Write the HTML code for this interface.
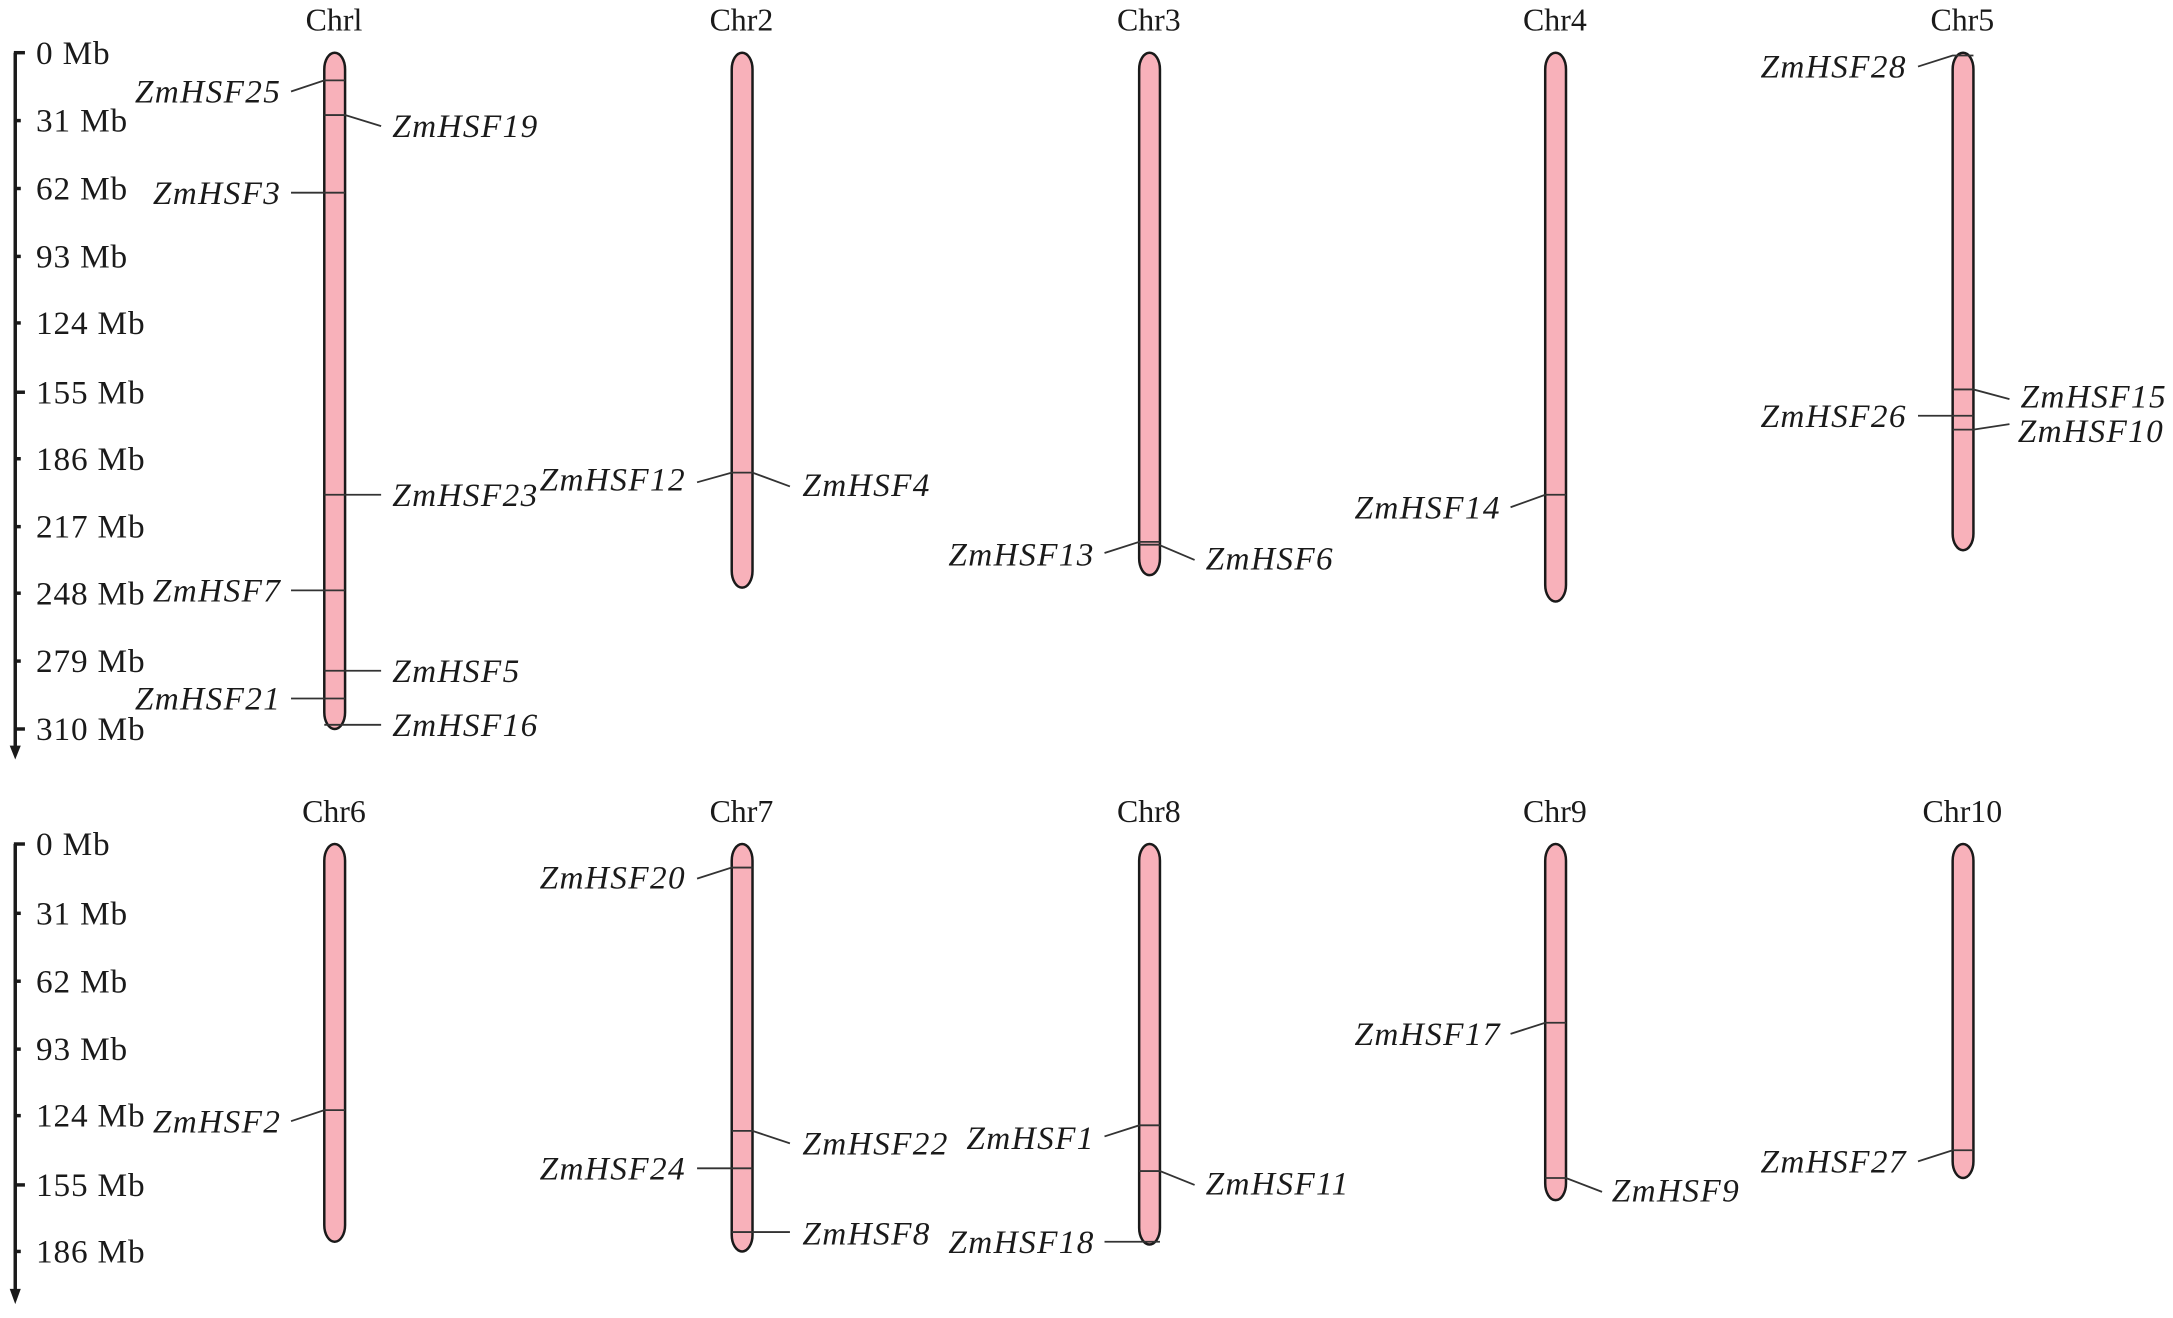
<!DOCTYPE html>
<html><head><meta charset="utf-8"><style>html,body{margin:0;padding:0;background:#fff}svg{display:block}</style></head>
<body>
<svg xmlns="http://www.w3.org/2000/svg" width="2173" height="1318" viewBox="0 0 1568 951" font-family="'Liberation Serif',serif">
<g stroke="#1a1a1a" fill="none">
<line x1="11" y1="38" x2="11" y2="540" stroke-width="2.5"/>
<g stroke-width="2.5">
<line x1="10" y1="38" x2="18" y2="38"/><line x1="10" y1="87" x2="15" y2="87"/><line x1="10" y1="136" x2="15" y2="136"/><line x1="10" y1="185" x2="15" y2="185"/><line x1="10" y1="233" x2="15" y2="233"/><line x1="10" y1="283" x2="18" y2="283"/><line x1="10" y1="331" x2="15" y2="331"/><line x1="10" y1="380" x2="15" y2="380"/><line x1="10" y1="428" x2="15" y2="428"/><line x1="10" y1="477" x2="15" y2="477"/><line x1="10" y1="526" x2="18" y2="526"/>
<line x1="11" y1="609" x2="11" y2="933"/>
<line x1="10" y1="609" x2="18" y2="609"/><line x1="10" y1="659" x2="15" y2="659"/><line x1="10" y1="708" x2="15" y2="708"/><line x1="10" y1="757" x2="15" y2="757"/><line x1="10" y1="805" x2="15" y2="805"/><line x1="10" y1="855" x2="18" y2="855"/><line x1="10" y1="903" x2="15" y2="903"/>
</g>
</g>
<polygon points="7,538 15,538 11,548" fill="#1a1a1a"/>
<polygon points="7,930 15,930 11,941" fill="#1a1a1a"/>
<g font-size="24" fill="#1a1a1a" letter-spacing="0.6">
<text x="26" y="46">0 Mb</text><text x="26" y="95">31 Mb</text><text x="26" y="144">62 Mb</text><text x="26" y="193">93 Mb</text><text x="26" y="241">124 Mb</text><text x="26" y="291">155 Mb</text><text x="26" y="339">186 Mb</text><text x="26" y="388">217 Mb</text><text x="26" y="436">248 Mb</text><text x="26" y="485">279 Mb</text><text x="26" y="534">310 Mb</text>
<text x="26" y="617">0 Mb</text><text x="26" y="667">31 Mb</text><text x="26" y="716">62 Mb</text><text x="26" y="765">93 Mb</text><text x="26" y="813">124 Mb</text><text x="26" y="863">155 Mb</text><text x="26" y="911">186 Mb</text>
</g>
<g font-size="23" fill="#1a1a1a" text-anchor="middle">
<text x="241" y="22">Chrl</text><text x="535" y="22">Chr2</text><text x="829" y="22">Chr3</text><text x="1122" y="22">Chr4</text><text x="1416" y="22">Chr5</text>
<text x="241" y="593">Chr6</text><text x="535" y="593">Chr7</text><text x="829" y="593">Chr8</text><text x="1122" y="593">Chr9</text><text x="1416" y="593">Chr10</text>
</g>
<g fill="#f8b1ba" stroke="#1a1a1a" stroke-width="1.8">
<rect x="234" y="38" width="15" height="488" rx="7.5" ry="12"/>
<rect x="528" y="38" width="15" height="386" rx="7.5" ry="12"/>
<rect x="822" y="38" width="15" height="377" rx="7.5" ry="12"/>
<rect x="1115" y="38" width="15" height="396" rx="7.5" ry="12"/>
<rect x="1409" y="38" width="15" height="359" rx="7.5" ry="12"/>
<rect x="234" y="609" width="15" height="287" rx="7.5" ry="12"/>
<rect x="528" y="609" width="15" height="294" rx="7.5" ry="12"/>
<rect x="822" y="609" width="15" height="289" rx="7.5" ry="12"/>
<rect x="1115" y="609" width="15" height="257" rx="7.5" ry="12"/>
<rect x="1409" y="609" width="15" height="241" rx="7.5" ry="12"/>
</g>
<g stroke="#333" stroke-width="1.3" fill="none">
<path d="M249,58H234L210,66"/><path d="M234,83H249L275,91"/><path d="M249,139H210"/><path d="M234,357H275"/><path d="M249,426H210"/><path d="M234,484H275"/><path d="M249,504H210"/><path d="M234,523H275"/>
<path d="M503,348L528,341H543L570,351"/>
<path d="M797,399L822,391H837"/><path d="M822,393H836L862,404"/>
<path d="M1090,366L1115,357H1130"/>
<path d="M1384,48L1409,40H1424"/><path d="M1409,281H1424L1450,288"/><path d="M1384,300H1424"/><path d="M1409,310H1424L1450,306"/>
<path d="M210,809L234,801H249"/>
<path d="M503,634L528,626H543"/><path d="M528,816H543L570,825"/><path d="M503,843H543"/><path d="M528,889H570"/>
<path d="M797,820L822,812H837"/><path d="M822,845H837L862,855"/><path d="M797,896H837"/>
<path d="M1090,746L1115,738H1130"/><path d="M1115,850H1130L1156,860"/>
<path d="M1384,838L1409,830H1424"/>
</g>
<g font-size="24" font-style="italic" fill="#1a1a1a" letter-spacing="1">
<g text-anchor="end">
<text x="203" y="74">ZmHSF25</text><text x="203" y="147">ZmHSF3</text><text x="203" y="434">ZmHSF7</text><text x="203" y="512">ZmHSF21</text>
<text x="495" y="354">ZmHSF12</text><text x="790" y="408">ZmHSF13</text><text x="1083" y="374">ZmHSF14</text>
<text x="1376" y="56">ZmHSF28</text><text x="1376" y="308">ZmHSF26</text>
<text x="203" y="817">ZmHSF2</text><text x="495" y="641">ZmHSF20</text><text x="495" y="851">ZmHSF24</text>
<text x="790" y="829">ZmHSF1</text><text x="790" y="904">ZmHSF18</text><text x="1083" y="754">ZmHSF17</text><text x="1376" y="846">ZmHSF27</text>
</g>
<text x="283" y="99">ZmHSF19</text><text x="283" y="365">ZmHSF23</text><text x="283" y="492">ZmHSF5</text><text x="283" y="531">ZmHSF16</text>
<text x="579" y="358">ZmHSF4</text><text x="870" y="411">ZmHSF6</text>
<text x="1458" y="294">ZmHSF15</text><text x="1456" y="319">ZmHSF10</text>
<text x="579" y="833">ZmHSF22</text><text x="579" y="898">ZmHSF8</text><text x="870" y="862">ZmHSF11</text><text x="1163" y="867">ZmHSF9</text>
</g>
</svg>
</body></html>
